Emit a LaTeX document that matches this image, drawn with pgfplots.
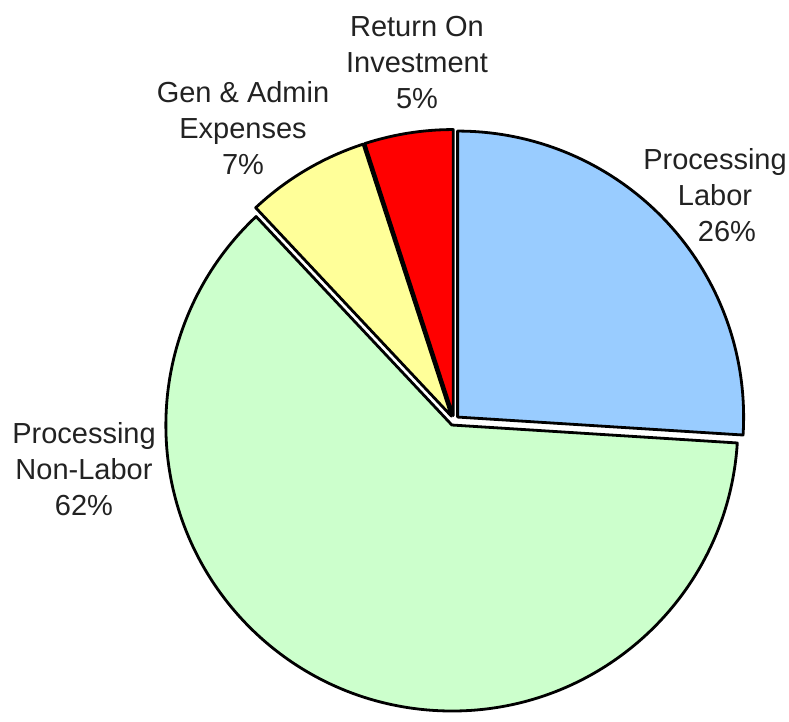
\documentclass[border=0pt]{standalone}
\usepackage{pgfplots}
\usepackage{pgfplotstable}
\pgfplotsset{compat=1.18}
\usepackage{fontspec}
\setmainfont{Liberation Sans}

\definecolor{pblue}{RGB}{153,204,255}
\definecolor{pgreen}{RGB}{204,255,204}
\definecolor{pyellow}{RGB}{255,255,153}
\definecolor{pred}{RGB}{255,0,0}
\definecolor{labeltext}{RGB}{34,34,34}

% slices clockwise from 12 o'clock, value in percent
\pgfplotstableread[col sep=comma]{
name,value,col
Processing Labor,26,pblue
Processing Non-Labor,62,pgreen
Gen and Admin Expenses,7,pyellow
Return On Investment,5,pred
}\piedata

\begin{document}
\begin{tikzpicture}
% build the slice commands from the table
\def\piecmds{}
\def\cumangle{90}
\pgfplotsforeachungrouped \i in {0,...,3}{%
  \pgfplotstablegetelem{\i}{value}\of\piedata \let\v\pgfplotsretval
  \pgfplotstablegetelem{\i}{col}\of\piedata \let\c\pgfplotsretval
  \pgfmathsetmacro\endang{\cumangle-3.6*\v}%
  \pgfmathsetmacro\midang{(\cumangle+\endang)/2}%
  \edef\piecmds{\unexpanded\expandafter{\piecmds}%
    \noexpand\filldraw[fill=\c,draw=black,line width=1.4pt,line join=round]
      ([shift={(\midang:2.5pt)}]axis cs:454,287.5) -- ++(\cumangle:143pt)
      arc[start angle=\cumangle,end angle=\endang,radius=143pt] -- cycle;}%
  \let\cumangle\endang
}
\begin{axis}[
    width=394.5pt, height=354pt,
    scale only axis,
    xmin=0, xmax=789, ymin=0, ymax=708,
    axis lines=none,
    clip=false,
]
% keep the whole axis area as the picture's extent
\path (axis cs:0,0) rectangle (axis cs:789,708);
\piecmds
\begin{scope}[every node/.style={align=center,text=labeltext,inner sep=0pt,
    font=\fontsize{14.5}{18}\selectfont}]
\node at (axis cs:715,513) {Processing\\Labor\\\hspace*{12pt}26\%};
\node at (axis cs:84,239) {Processing\\Non-Labor\\62\%};
\node at (axis cs:243,580) {Gen \& Admin\\Expenses\\7\%};
\node at (axis cs:417,645) {Return On\\Investment\\5\%};
\end{scope}
\end{axis}
\end{tikzpicture}
\end{document}
